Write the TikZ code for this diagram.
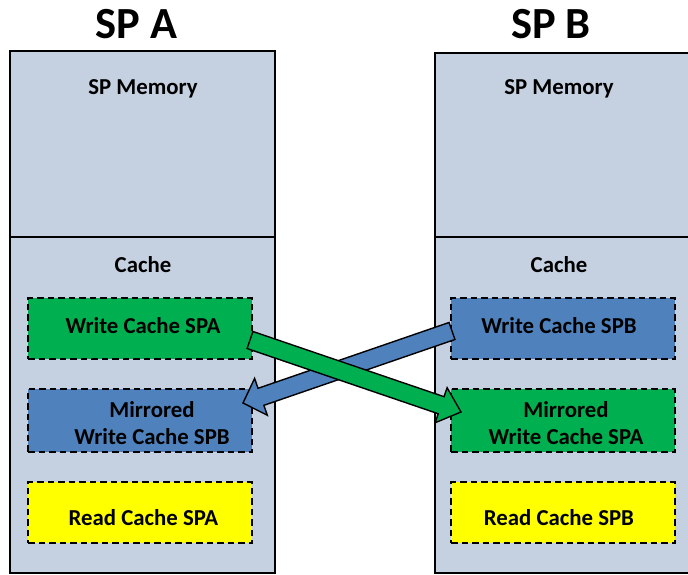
\documentclass[tikz,border=0pt]{standalone}
\usepackage{fontspec}
\setmainfont{Carlito}
\usetikzlibrary{calc}
\definecolor{panel}{RGB}{197,208,224}
\definecolor{mgreen}{RGB}{0,176,80}
\definecolor{mblue}{RGB}{79,129,189}
\definecolor{myellow}{RGB}{255,255,0}
\begin{document}
\begin{tikzpicture}[x=1pt,y=-1pt,
 panelbox/.style={draw=black,line width=2.2pt,fill=panel,outer sep=0pt,inner sep=0pt,anchor=north west,minimum width=265pt},
 cachebox/.style={draw=black,line width=1.7pt,dash pattern=on 6.5pt off 4pt,minimum width=224pt,minimum height=61pt,inner sep=0pt,outer sep=0pt},
 lbl/.style={font=\bfseries\fontsize{22.8}{27}\selectfont,align=center,inner sep=0pt,anchor=base},
 title/.style={font=\bfseries\fontsize{44.5}{50}\selectfont,inner sep=0pt},
 bigarrow/.style={draw=black,line width=1.4pt,line join=miter}]
\useasboundingbox (0,0) rectangle (688,575);
\clip (0,0) rectangle (688,575);
\fill[white] (0,0) rectangle (688,575);

% titles
\node[title] (tA) at (136.5,24) {SP A};
\node[title] (tB) at (551,24) {SP B};

% panels
\node[panelbox,minimum height=186pt] (memA) at (10,51) {};
\node[panelbox,minimum height=336pt] (cacA) at (10,237) {};
\node[panelbox,minimum height=184pt] (memB) at (435,53) {};
\node[panelbox,minimum height=336pt] (cacB) at (435,237) {};

\node[lbl] (memAt) at (143,95) {SP Memory};
\node[lbl] (memBt) at (559,95) {SP Memory};
\node[lbl] (cacAt) at (143,272) {Cache};
\node[lbl] (cacBt) at (559,272) {Cache};

% cache boxes
\node[cachebox,fill=mgreen] (wa) at (140,328.5) {};
\node[cachebox,fill=mblue,minimum height=63pt] (ma) at (140,420.5) {};
\node[cachebox,fill=myellow] (ra) at (140,512.5) {};
\node[cachebox,fill=mblue] (wb) at (563,328.5) {};
\node[cachebox,fill=mgreen,minimum height=63pt] (mb) at (563,420.5) {};
\node[cachebox,fill=myellow] (rb) at (563,512.5) {};

\node[lbl] (wat) at (143,333) {Write Cache SPA};
\node[lbl] (mat) at (152,444) {Mirrored\\Write Cache SPB};
\node[lbl] (rat) at (143.5,525) {Read Cache SPA};
\node[lbl] (wbt) at (559,333) {Write Cache SPB};
\node[lbl] (mbt) at (566,444) {Mirrored\\Write Cache SPA};
\node[lbl] (rbt) at (559,525) {Read Cache SPB};

% blue arrow: Write Cache SPB -> Mirrored Write Cache SPB
\coordinate (bt) at ($(wb.west)+(1,2.5)$);
\coordinate (bh) at ($(ma.east)+(-9,-17.5)$);
\coordinate (bb) at ($(bh)!19pt!(bt)$);
\draw[bigarrow,fill=mblue] ($(bt)!9pt!90:(bh)$) -- ($(bb)!9pt!-90:(bt)$) -- ($(bb)!19.5pt!-90:(bt)$) -- (bh) -- ($(bb)!19.5pt!90:(bt)$) -- ($(bb)!9pt!90:(bt)$) -- ($(bt)!9pt!-90:(bh)$) -- cycle;

% green arrow: Write Cache SPA -> Mirrored Write Cache SPA
\coordinate (gt) at ($(wa.east)+(-2,11.5)$);
\coordinate (gh) at ($(mb.west)+(10,-8.5)$);
\coordinate (gb) at ($(gh)!21pt!(gt)$);
\draw[bigarrow,fill=mgreen] ($(gt)!9pt!90:(gh)$) -- ($(gb)!9pt!-90:(gt)$) -- ($(gb)!18.5pt!-90:(gt)$) -- (gh) -- ($(gb)!18.5pt!90:(gt)$) -- ($(gb)!9pt!90:(gt)$) -- ($(gt)!9pt!-90:(gh)$) -- cycle;
\end{tikzpicture}
\end{document}
